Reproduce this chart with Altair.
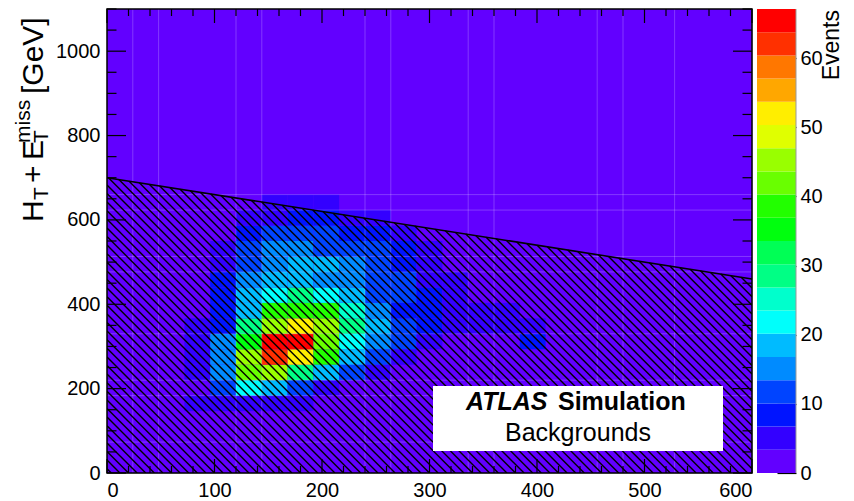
import altair as alt
import pandas as pd
import numpy as np

FONT = "Liberation Sans"

# ---------------- data ----------------
X_MAX, Y_MAX = 600, 1100
N_XBINS, N_YBINS = 25, 30
FIRST_COL = 3          # first x-bin index of the rows below
# events per bin, rows indexed by y-bin (from bottom), columns = x-bins 3..16
row_04 = [5, 5, 5, 5, 5, 0, 0, 0, 0, 0, 0, 0, 0, 0]
row_05 = [0, 12, 22, 19, 12, 5, 0, 0, 0, 0, 0, 0, 0, 0]
row_06 = [5, 15, 42, 46, 29, 19, 12, 5, 0, 0, 0, 0, 0, 0]
row_07 = [5, 15, 46, 63, 52, 39, 19, 12, 5, 0, 0, 0, 0, 0]
row_08 = [5, 15, 35, 66, 66, 42, 22, 15, 12, 5, 0, 0, 0, 8]
row_09 = [5, 8, 29, 46, 52, 46, 29, 19, 12, 8, 5, 5, 5, 5]
row_10 = [0, 8, 19, 39, 39, 39, 25, 15, 8, 8, 5, 5, 5, 0]
row_11 = [0, 8, 19, 22, 29, 22, 19, 12, 12, 8, 5, 0, 0, 0]
row_12 = [0, 8, 15, 19, 19, 15, 15, 12, 12, 5, 5, 0, 0, 0]
row_13 = [0, 5, 12, 15, 19, 19, 15, 12, 8, 5, 0, 0, 0, 0]
row_14 = [0, 5, 12, 15, 15, 12, 12, 12, 8, 5, 0, 0, 0, 0]
row_15 = [0, 0, 8, 12, 12, 12, 8, 8, 5, 0, 0, 0, 0, 0]
row_16 = [0, 0, 5, 5, 8, 8, 5, 5, 0, 0, 0, 0, 0, 0]
row_17 = [0, 0, 0, 5, 5, 5, 0, 0, 0, 0, 0, 0, 0, 0]
rows = {4: row_04, 5: row_05, 6: row_06, 7: row_07, 8: row_08, 9: row_09,
        10: row_10, 11: row_11, 12: row_12, 13: row_13, 14: row_14,
        15: row_15, 16: row_16, 17: row_17}

# boundary of the hatched region: HT+MET = CUT_0 + CUT_SLOPE * x
CUT_0, CUT_SLOPE = 700, -0.4

CB_MAX = 67.1                      # top of colour axis
N_CONT = 20
palette = ["#6200ff", "#3300ff", "#0014ff", "#0044ff", "#008bff", "#00bbff",
           "#00fffb", "#00ffcc", "#00ff85", "#00ff55", "#00ff0e", "#22ff00",
           "#69ff00", "#99ff00", "#e0ff00", "#ffee00", "#ffa700", "#ff7700",
           "#ff3000", "#ff0000"]

x_labels = [0, 100, 200, 300, 400, 500, 600]
y_labels = [0, 200, 400, 600, 800, 1000]
z_labels = [0, 10, 20, 30, 40, 50, 60]

# ---------------- geometry ----------------
W, H = 645, 464
bw, bh = X_MAX / N_XBINS, Y_MAX / N_YBINS

cells = []
for j, vals in rows.items():
    for k, v in enumerate(vals):
        if v > 0:
            i = FIRST_COL + k
            cells.append(dict(x0=i * bw, x1=(i + 1) * bw, y0=j * bh, y1=(j + 1) * bh, n=v))
cells = pd.DataFrame(cells)

step = CB_MAX / N_CONT
thresholds = [step * (k + 1) for k in range(N_CONT - 1)]
cscale = alt.Scale(type="threshold", domain=thresholds, range=palette)
xs = alt.Scale(domain=[0, X_MAX], nice=False, zero=False)
ys = alt.Scale(domain=[0, Y_MAX], nice=False, zero=False)

one = pd.DataFrame({"a": [0]})
bg = alt.Chart(one).mark_rect(color=palette[0]).encode(
    x=alt.value(0), x2=alt.value(W), y=alt.value(0), y2=alt.value(H))

base_cells = alt.Chart(cells).mark_rect().encode(
    x=alt.X("x0:Q", scale=xs, axis=alt.Axis(values=x_labels, ticks=False, domain=False, grid=False,
                                            labelFontSize=20, labelPadding=7, title=None,
                                            labelColor="black", labelFont=FONT, format="d")),
    x2="x1:Q",
    y=alt.Y("y0:Q", scale=ys, axis=alt.Axis(values=y_labels, ticks=False, domain=False, grid=False,
                                            labelFontSize=20, labelPadding=7, title=None,
                                            labelColor="black", labelFont=FONT, format="d")),
    y2="y1:Q",
    color=alt.Color("n:Q", scale=cscale, legend=None),
)

# faint seams between bins (rendering artefacts in the original)
seam_cols = [1, 2, 5, 6, 10, 11, 14, 15, 19, 20, 22]
seam_rows = [2, 5, 6, 9, 13, 14, 17, 18]
vseam = alt.Chart(pd.DataFrame({"v": [c * bw for c in seam_cols]})).mark_rule(
    color="white", opacity=0.22, strokeWidth=1).encode(
    x=alt.X("v:Q", scale=xs), y=alt.value(0), y2=alt.value(H))
hseam = alt.Chart(pd.DataFrame({"v": [r * bh for r in seam_rows]})).mark_rule(
    color="white", opacity=0.22, strokeWidth=1).encode(
    y=alt.Y("v:Q", scale=ys), x=alt.value(0), x2=alt.value(W))

# hatching (45 degrees on screen) below the cut line
kpx = (W / X_MAX) / (H / Y_MAX)
hatch = []
for x0 in np.arange(4, X_MAX + 300, 8.0):
    xt = (kpx * x0 - CUT_0) / (kpx + CUT_SLOPE)
    if xt < 0:
        xa, ya = 0.0, kpx * x0
        if ya > CUT_0:
            continue
    else:
        xa, ya = xt, CUT_0 + CUT_SLOPE * xt
    if xa >= X_MAX:
        continue
    if x0 <= X_MAX:
        xb, yb = x0, 0.0
    else:
        xb, yb = float(X_MAX), kpx * (x0 - X_MAX)
    hatch.append(dict(xa=xa, ya=ya, xb=xb, yb=yb))
hatch = pd.DataFrame(hatch)
hatch_layer = alt.Chart(hatch).mark_rule(color="black", strokeWidth=1.4, clip=True).encode(
    x=alt.X("xa:Q", scale=xs), y=alt.Y("ya:Q", scale=ys), x2="xb:Q", y2="yb:Q")

cut = pd.DataFrame({"xa": [0], "ya": [CUT_0], "xb": [X_MAX], "yb": [CUT_0 + CUT_SLOPE * X_MAX]})
cut_layer = alt.Chart(cut).mark_rule(color="black", strokeWidth=1.6).encode(
    x=alt.X("xa:Q", scale=xs), y=alt.Y("ya:Q", scale=ys), x2="xb:Q", y2="yb:Q")

box = alt.Chart(one).mark_rect(color="white").encode(
    x=alt.value(326), x2=alt.value(616), y=alt.value(377), y2=alt.value(442))


def txt(s, x, y, size, angle=0, align="left", weight="normal", style="normal"):
    return alt.Chart(pd.DataFrame({"t": [s]})).mark_text(
        angle=angle, align=align, baseline="alphabetic", fontSize=size, font=FONT,
        fontWeight=weight, fontStyle=style, color="black").encode(
        x=alt.value(x), y=alt.value(y), text="t:N")


atlas = txt("ATLAS", 359, 401, 25, weight="bold", style="italic")
simu = txt("Simulation", 451, 401, 25, weight="bold")
bkg = txt("Backgrounds", 471, 432, 25, align="center")


def ticks(vals, major_every, orient, big, small):
    df = pd.DataFrame({"v": vals})
    df["major"] = [abs(v / major_every - round(v / major_every)) < 1e-6 for v in vals]
    out = []
    for is_major, ln in ((True, big), (False, small)):
        d = df[df["major"] == is_major]
        m = alt.Chart(d).mark_rule(color="black", strokeWidth=1.2)
        if orient == "bottom":
            m = m.encode(x=alt.X("v:Q", scale=xs), y=alt.value(H), y2=alt.value(H - ln))
        elif orient == "top":
            m = m.encode(x=alt.X("v:Q", scale=xs), y=alt.value(0), y2=alt.value(ln))
        elif orient == "left":
            m = m.encode(y=alt.Y("v:Q", scale=ys), x=alt.value(0), x2=alt.value(ln))
        else:
            m = m.encode(y=alt.Y("v:Q", scale=ys), x=alt.value(W), x2=alt.value(W - ln))
        out.append(m)
    return out


xt_vals = list(range(0, X_MAX + 1, 20))
yt_vals = list(range(0, Y_MAX + 1, 50))
tick_layers = (ticks(xt_vals, 100, "bottom", 14, 7) + ticks(xt_vals, 100, "top", 14, 7) +
               ticks(yt_vals, 200, "left", 19, 9.5) + ticks(yt_vals, 200, "right", 19, 9.5))

frame = alt.Chart(one).mark_rect(filled=False, stroke="black", strokeWidth=1.5).encode(
    x=alt.value(0), x2=alt.value(W), y=alt.value(0), y2=alt.value(H))

main = alt.layer(bg, base_cells, vseam, hseam, hatch_layer, cut_layer, box, atlas, simu, bkg,
                 *tick_layers, frame)

# colour bar
cb = pd.DataFrame({"lo": [step * k for k in range(N_CONT)],
                   "hi": [step * (k + 1) for k in range(N_CONT)],
                   "mid": [step * (k + 0.5) for k in range(N_CONT)]})
cbar = alt.Chart(cb).mark_rect().encode(
    x=alt.value(650), x2=alt.value(689),
    y=alt.Y("lo:Q", scale=alt.Scale(domain=[0, CB_MAX], nice=False, zero=False),
            axis=alt.Axis(orient="right", offset=25, values=z_labels, tickSize=19, tickWidth=1.2,
                          tickColor="black", domain=False, grid=False, labelFontSize=20,
                          labelPadding=4, labelColor="black", labelFont=FONT, title=None)),
    y2="hi:Q",
    color=alt.Color("mid:Q", scale=cscale, legend=None),
)
cb_edge = alt.Chart(one).mark_rule(color="#999999", strokeWidth=1).encode(
    x=alt.value(689), y=alt.value(0), y2=alt.value(H))
events = txt("Events", 732, 1, 23, angle=270, align="right")

# y-axis title pieces: H_T + E_T^miss [GeV]
ytitle = [
    txt("H", -64, 213, 30, angle=270),
    txt("T", -59, 191, 21, angle=270),
    txt("+", -64, 174, 30, angle=270),
    txt("E", -64, 151, 30, angle=270),
    txt("T", -59, 134, 21, angle=270),
    txt("miss", -77, 134, 21, angle=270),
    txt("[GeV]", -64, 85, 30, angle=270),
]

chart = alt.layer(main, cbar, cb_edge, events, *ytitle).resolve_scale(y="independent").properties(
    width=W, height=H,
    autosize=alt.AutoSizeParams(type="none"),
    padding={"left": 99, "top": 1, "right": 94, "bottom": 27},
).configure_view(stroke=None).configure(font=FONT)

chart.save("out.html", embed_options={"renderer": "svg", "actions": False})
